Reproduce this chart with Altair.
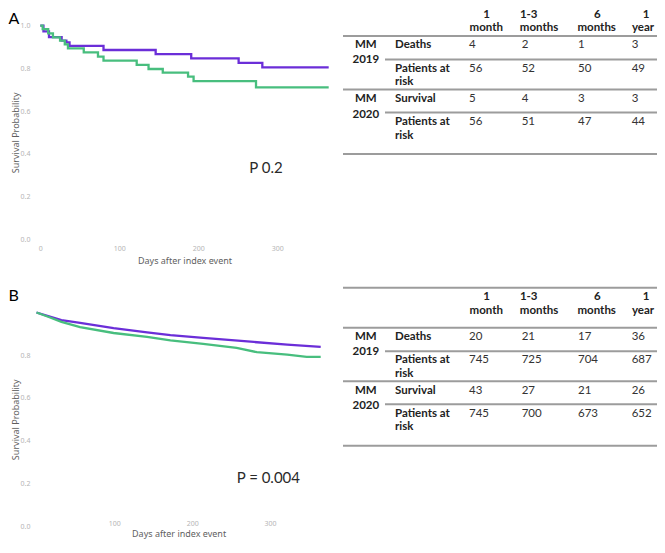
import altair as alt
import pandas as pd

# ---------------- data ----------------
groups = ["MM 2019", "MM 2020"]
colors = ["#6B2ED8", "#48BE7E"]

# Panel A: Kaplan-Meier steps (days, survival)
a19_day = [0, 4, 11, 27, 33, 37, 80, 146, 191, 251, 281, 365]
a19_surv = [1.0, 0.973, 0.946, 0.93, 0.922, 0.905, 0.886, 0.867, 0.847, 0.826, 0.805, 0.805]
a20_day = [0, 3, 10, 16, 25, 31, 35, 55, 73, 80, 122, 137, 155, 187, 194, 273, 365]
a20_surv = [1.0, 0.984, 0.964, 0.945, 0.93, 0.912, 0.894, 0.875, 0.855, 0.836, 0.816,
            0.797, 0.78, 0.761, 0.74, 0.711, 0.711]

# Panel B: large cohort curves
b19_day = [0, 15, 32, 56, 99, 142, 172, 214, 279, 322, 365]
b19_surv = [1.0, 0.983, 0.964, 0.951, 0.927, 0.907, 0.894, 0.881, 0.862, 0.85, 0.839]
b20_day = [0, 15, 32, 56, 99, 142, 172, 214, 257, 283, 322, 347, 365]
b20_surv = [1.0, 0.98, 0.956, 0.932, 0.904, 0.886, 0.869, 0.853, 0.834, 0.814, 0.803, 0.792, 0.792]

p_texts = ["P 0.2", "P = 0.004"]
panel_letters = ["A", "B"]

a_x_ticks = [0, 100, 200, 300]
a_y_ticks = [0, 0.2, 0.4, 0.6, 0.8, 1.0]
b_x_ticks = [100, 200, 300]
b_y_ticks = [0, 0.2, 0.4, 0.6, 0.8]

col_top = ["1", "1-3", "6", "1"]
col_bottom = ["month", "months", "months", "year"]
grp_top = ["MM", "MM"]
grp_bottom = ["2019", "2020"]
row_labels = ["Deaths", "Patients at|risk", "Survival", "Patients at|risk"]

a_deaths19 = [4, 2, 1, 3]
a_risk19 = [56, 52, 50, 49]
a_deaths20 = [5, 4, 3, 3]
a_risk20 = [56, 51, 47, 44]
b_deaths19 = [20, 21, 17, 36]
b_risk19 = [745, 725, 704, 687]
b_deaths20 = [43, 27, 21, 26]
b_risk20 = [745, 700, 673, 652]

# ---------------- layout (page pixels) ----------------
W, H, M = 649, 537, 8
A_XR = (40.3, 328.7)
A_YR = (239.0, 25.7)
B_XR = (36.5, 320.7)
B_YR = (526.0, 312.5)

TAB_FONT = 11.5
TAB_X_FULL, TAB_X_PART, TAB_X_END = 343, 385, 665
GRP_CX, ROW_LX = 365.8, 395
VAL_LX = [469, 521.7, 578, 631.7]
HEAD_TOP_CX = [486.7, 528.7, 597.3, 646]
HEAD_BOT_CX = [486.3, 539, 596.7, 643]
ROW_DY = [9, 32.5, 63, 86]
LINE_H = 13.5
GRP_DY = [(9, 24), (63, 78.5)]
RULE_PART_DY = [23.5, 76.5]
RULE_FULL_DY = [0, 53.5, 118]


def pxx():
    return alt.Scale(domain=[M, M + W], range=[0, W], nice=False, zero=False)


def pxy():
    return alt.Scale(domain=[M, M + H], range=[0, H], nice=False, zero=False)


def curves_df(d19, s19, d20, s20):
    rows = [{"day": d, "surv": s, "grp": groups[0]} for d, s in zip(d19, s19)]
    rows += [{"day": d, "surv": s, "grp": groups[1]} for d, s in zip(d20, s20)]
    return pd.DataFrame(rows)


def km_layer(df, xr, yr, interp, xt, yt, x_axis_y, x_lp, x_tp):
    return alt.Chart(df).mark_line(interpolate=interp, strokeWidth=2.3).encode(
        x=alt.X("day:Q",
                scale=alt.Scale(domain=[0, 365], range=[xr[0] - M, xr[1] - M], nice=False, zero=False),
                axis=alt.Axis(title="Days after index event", values=xt, orient="bottom",
                              offset=(x_axis_y - M) - H, labelPadding=x_lp, titlePadding=x_tp)),
        y=alt.Y("surv:Q",
                scale=alt.Scale(domain=[0, 1], range=[yr[0] - M, yr[1] - M], nice=False, zero=False),
                axis=alt.Axis(title="Survival Probability", values=yt, format=".1f", orient="left",
                              offset=-23, labelPadding=1, titlePadding=0)),
        color=alt.Color("grp:N", scale=alt.Scale(domain=groups, range=colors), legend=None),
    )


def text_layer(df, align, weight, size, color, font="Lato"):
    return alt.Chart(df).mark_text(align=align, baseline="middle", fontWeight=weight,
                                   fontSize=size, color=color, font=font).encode(
        x=alt.X("x:Q", scale=pxx(), axis=None),
        y=alt.Y("y:Q", scale=pxy(), axis=None),
        text="t:N",
    )


def build_table(vals, L0, head_dy, top_rule):
    hc, bc, bl, nl, rules = [], [], [], [], []
    for i in range(4):
        hc.append({"x": HEAD_TOP_CX[i], "y": L0 + head_dy[0], "t": col_top[i]})
        hc.append({"x": HEAD_BOT_CX[i], "y": L0 + head_dy[1], "t": col_bottom[i]})
    for g in range(2):
        bc.append({"x": GRP_CX, "y": L0 + GRP_DY[g][0], "t": grp_top[g]})
        bc.append({"x": GRP_CX, "y": L0 + GRP_DY[g][1], "t": grp_bottom[g]})
    for r in range(4):
        for k, line in enumerate(row_labels[r].split("|")):
            bl.append({"x": ROW_LX, "y": L0 + ROW_DY[r] + k * LINE_H, "t": line})
        for c in range(4):
            nl.append({"x": VAL_LX[c], "y": L0 + ROW_DY[r], "t": str(vals[r][c])})
    for dy in RULE_FULL_DY:
        rules.append({"x": TAB_X_FULL, "x2": TAB_X_END, "y": L0 + dy})
    for dy in RULE_PART_DY:
        rules.append({"x": TAB_X_PART, "x2": TAB_X_END, "y": L0 + dy})
    if top_rule is not None:
        rules.append({"x": TAB_X_FULL, "x2": TAB_X_END, "y": L0 + top_rule})
    return pd.DataFrame(hc), pd.DataFrame(bc), pd.DataFrame(bl), pd.DataFrame(nl), pd.DataFrame(rules)


layers = []
layers.append(km_layer(curves_df(a19_day, a19_surv, a20_day, a20_surv), A_XR, A_YR, "step-after",
                       a_x_ticks, a_y_ticks, 239.0, 5.5, 4.5))
layers.append(km_layer(curves_df(b19_day, b19_surv, b20_day, b20_surv), B_XR, B_YR, "linear",
                       b_x_ticks, b_y_ticks, 518.0, 1, 3))

tabA = build_table([a_deaths19, a_risk19, a_deaths20, a_risk20], 36, (-21, -8), None)
tabB = build_table([b_deaths19, b_risk19, b_deaths20, b_risk20], 327.7, (-31, -16.5), -40)

all_rules = pd.concat([tabA[4], tabB[4]], ignore_index=True)
layers.append(alt.Chart(all_rules).mark_rule(color="#9c9c9c", strokeWidth=2).encode(
    x=alt.X("x:Q", scale=pxx(), axis=None), x2="x2:Q",
    y=alt.Y("y:Q", scale=pxy(), axis=None)))

layers.append(text_layer(pd.concat([tabA[0], tabB[0]]), "center", "bold", TAB_FONT, "#222222"))
layers.append(text_layer(pd.concat([tabA[1], tabB[1]]), "center", "bold", TAB_FONT, "#222222"))
layers.append(text_layer(pd.concat([tabA[2], tabB[2]]), "left", "bold", TAB_FONT, "#222222"))
layers.append(text_layer(pd.concat([tabA[3], tabB[3]]), "left", "normal", TAB_FONT, "#333333"))

p_df = pd.DataFrame({"x": [249.3, 236.7], "y": [167.7, 478.3], "t": p_texts})
layers.append(text_layer(p_df, "left", "normal", 15, "#2a2a2a"))

letter_df = pd.DataFrame({"x": [8.5, 8.5], "y": [19, 296], "t": panel_letters})
layers.append(text_layer(letter_df, "left", "normal", 16, "#000000"))

chart = alt.layer(*layers).properties(
    width=W, height=H, autosize=alt.AutoSizeParams(type="none"), padding=0
).resolve_scale(
    x="independent", y="independent"
).configure_view(stroke=None).configure_axis(
    grid=False, ticks=False, domain=False, labelFlush=False,
    labelFont="Noto Sans", labelFontSize=7, labelColor="#b5b5b5",
    titleFont="Noto Sans", titleFontSize=9, titleColor="#5f5f5f", titleFontWeight="normal",
)

chart.save("out.html", embed_options={"renderer": "svg", "actions": False})
